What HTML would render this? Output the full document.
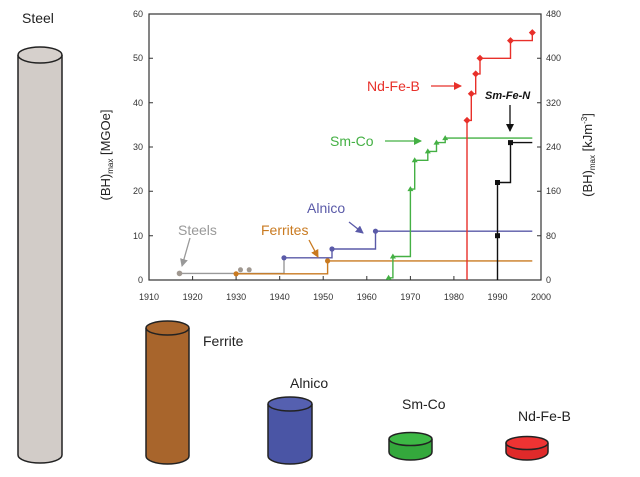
<!DOCTYPE html>
<html><head><meta charset="utf-8"><style>
html,body{margin:0;padding:0;background:#fff;}
svg{display:block;font-family:"Liberation Sans",Arial,sans-serif;}
</style></head><body>
<svg width="640" height="477" viewBox="0 0 640 477" xmlns="http://www.w3.org/2000/svg">
<rect width="640" height="477" fill="#fff"/>
<defs>
<marker id="ah" markerWidth="8" markerHeight="8" refX="7" refY="4" orient="auto" markerUnits="userSpaceOnUse"><path d="M0,0 L8,4 L0,8 z" fill="context-stroke"/></marker>
</defs>
<!-- cylinders -->
<g stroke="#222" stroke-width="1.5">
<path d="M18,55 V455 A22,8 0 0 0 62,455 V55" fill="#d2ccc8"/>
<ellipse cx="40" cy="55" rx="22" ry="8" fill="#d6d0cc"/>
<path d="M146,328 V456 A21.5,8 0 0 0 189,456 V328" fill="#a8652c"/>
<ellipse cx="167.5" cy="328" rx="21.5" ry="7" fill="#a8652c"/>
<path d="M268,404 V456 A22,8 0 0 0 312,456 V404" fill="#4a55a5"/>
<ellipse cx="290" cy="404" rx="22" ry="7" fill="#5560b0"/>
<path d="M389,439 V452 A21.5,8 0 0 0 432,452 V439" fill="#34a83c"/>
<ellipse cx="410.5" cy="439" rx="21.5" ry="6.5" fill="#3db845"/>
<path d="M506,443 V452 A21,8 0 0 0 548,452 V443" fill="#e02a2a"/>
<ellipse cx="527" cy="443" rx="21" ry="6.5" fill="#ee3333"/>
</g>
<g font-size="14" fill="#222">
<text x="22" y="23">Steel</text>
<text x="203" y="346">Ferrite</text>
<text x="290" y="388">Alnico</text>
<text x="402" y="409">Sm-Co</text>
<text x="518" y="421">Nd-Fe-B</text>
</g>
<!-- axes -->
<rect x="149" y="14" width="392" height="266" fill="none" stroke="#333" stroke-width="1.2"/>
<g stroke="#333" stroke-width="1">
<path d="M149,280v-4M192.6,280v-4M236.1,280v-4M279.7,280v-4M323.2,280v-4M366.8,280v-4M410.4,280v-4M453.9,280v-4M497.5,280v-4M541,280v-4"/>
<path d="M149,280h4M149,235.7h4M149,191.3h4M149,147h4M149,102.7h4M149,58.3h4M149,14h4"/>
<path d="M541,280h-4M541,235.7h-4M541,191.3h-4M541,147h-4M541,102.7h-4M541,58.3h-4M541,14h-4"/>
</g>
<g font-size="9" fill="#333" text-anchor="middle">
<text x="149" y="300">1910</text><text x="192.6" y="300">1920</text><text x="236.1" y="300">1930</text><text x="279.7" y="300">1940</text><text x="323.2" y="300">1950</text><text x="366.8" y="300">1960</text><text x="410.4" y="300">1970</text><text x="453.9" y="300">1980</text><text x="497.5" y="300">1990</text><text x="541" y="300">2000</text>
</g>
<g font-size="9" fill="#333" text-anchor="end">
<text x="143" y="283">0</text><text x="143" y="239">10</text><text x="143" y="194">20</text><text x="143" y="150">30</text><text x="143" y="106">40</text><text x="143" y="61">50</text><text x="143" y="17">60</text>
</g>
<g font-size="9" fill="#333" text-anchor="start">
<text x="546" y="283">0</text><text x="546" y="239">80</text><text x="546" y="194">160</text><text x="546" y="150">240</text><text x="546" y="106">320</text><text x="546" y="61">400</text><text x="546" y="17">480</text>
</g>
<text transform="translate(110,155) rotate(-90)" font-size="13" fill="#222" text-anchor="middle">(BH)<tspan font-size="8" dy="3">max</tspan><tspan dy="-3"> [MGOe]</tspan></text>
<text transform="translate(592,155) rotate(-90)" font-size="13" fill="#222" text-anchor="middle">(BH)<tspan font-size="8" dy="3">max</tspan><tspan dy="-3"> [kJm</tspan><tspan font-size="8" dy="-5">-3</tspan><tspan dy="5">]</tspan></text>
<!-- series -->
<g fill="none" stroke-width="1.4">
<path d="M179.5,273.4 H284 V257.8" stroke="#999"/>
<path d="M284,257.8 H332 V249 H375.5 V231.2 H532.3" stroke="#5a5aa8"/>
<path d="M236.1,273.8 H327.6 V260.9 H532.3" stroke="#c97a20"/>
<path d="M388.6,280 V277.8 H392.9 V256.5 H410.4 V189.1 H414.7 V160.3 H427.8 V151.4 H436.5 V142.6 H445.2 V138.1 H532.3" stroke="#44b044"/>
<path d="M467,280 V120.4 H471.3 V93.8 H475.7 V73.9 H480 V58.3 H510.5 V40.6 H532.3 V32.6" stroke="#e8302a"/>
<path d="M497.5,280 V182.5 H510.5 V142.6 H532.3" stroke="#111"/>
</g>
<!-- markers -->
<g fill="#a09890"><circle cx="179.5" cy="273.4" r="2.8"/><circle cx="240.5" cy="269.8" r="2.5"/><circle cx="249.2" cy="269.8" r="2.5"/></g>
<g fill="#c97a20"><circle cx="236.1" cy="273.8" r="2.6"/><circle cx="327.6" cy="260.9" r="2.6"/></g>
<g fill="#5a5aa8"><circle cx="284" cy="257.8" r="2.6"/><circle cx="332" cy="249" r="2.6"/><circle cx="375.5" cy="231.2" r="2.6"/></g>
<g fill="#44b044">
<path d="M388.6,274.8 l3,5 h-6z"/><path d="M392.9,253.5 l3,5 h-6z"/><path d="M410.4,186.1 l3,5 h-6z"/><path d="M414.7,157.3 l3,5 h-6z"/><path d="M427.8,148.4 l3,5 h-6z"/><path d="M436.5,139.6 l3,5 h-6z"/><path d="M445.2,135.1 l3,5 h-6z"/>
</g>
<g fill="#e8302a">
<path d="M467,116.9 l3.5,3.5 -3.5,3.5 -3.5,-3.5z"/><path d="M471.3,90.3 l3.5,3.5 -3.5,3.5 -3.5,-3.5z"/><path d="M475.7,70.4 l3.5,3.5 -3.5,3.5 -3.5,-3.5z"/><path d="M480,54.8 l3.5,3.5 -3.5,3.5 -3.5,-3.5z"/><path d="M510.5,37.1 l3.5,3.5 -3.5,3.5 -3.5,-3.5z"/><path d="M532.3,29.1 l3.5,3.5 -3.5,3.5 -3.5,-3.5z"/>
</g>
<g fill="#111"><rect x="495" y="233.2" width="5" height="5"/><rect x="495" y="180" width="5" height="5"/><rect x="508" y="140.1" width="5" height="5"/></g>
<!-- annotations -->
<g font-size="14">
<text x="367" y="91" fill="#e8302a">Nd-Fe-B</text>
<text x="330" y="146" fill="#44b044">Sm-Co</text>
<text x="307" y="213" fill="#5a5aa8">Alnico</text>
<text x="261" y="235" fill="#c97a20">Ferrites</text>
<text x="178" y="235" fill="#999">Steels</text>
</g>
<text x="485" y="99" font-size="11" font-weight="bold" font-style="italic" fill="#111">Sm-Fe-N</text>
<g fill="none" stroke-width="1.3">
<path d="M431,86 H461" stroke="#e8302a" marker-end="url(#ah)"/>
<path d="M385,141 H421" stroke="#44b044" marker-end="url(#ah)"/>
<path d="M364,212 L364,212 L363,212" stroke="none"/>
<path d="M349,222 L363,233" stroke="#5a5aa8" marker-end="url(#ah)"/>
<path d="M309,240 L318,257" stroke="#c97a20" marker-end="url(#ah)"/>
<path d="M190,238 L182,266" stroke="#999" marker-end="url(#ah)"/>
<path d="M510,105 V131" stroke="#111" marker-end="url(#ah)"/>
</g>
</svg>
</body></html>
